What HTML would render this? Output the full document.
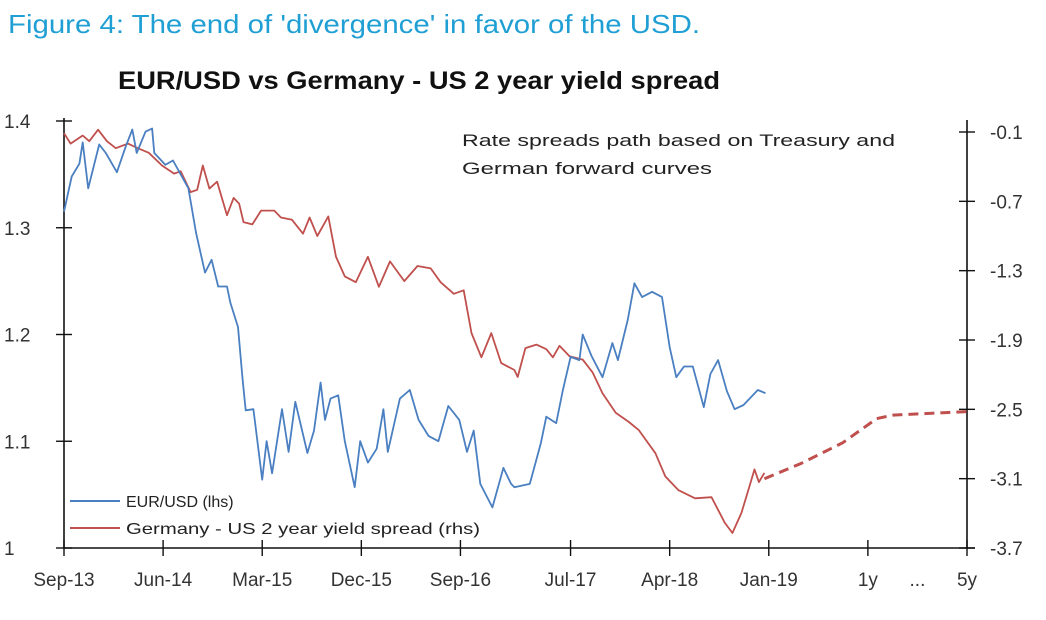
<!DOCTYPE html>
<html><head><meta charset="utf-8"><style>
html,body{margin:0;padding:0;background:#fff}
svg text{font-family:"Liberation Sans",sans-serif}
</style></head><body>
<svg id="chart" width="1046" height="615" xmlns="http://www.w3.org/2000/svg">
<text x="8" y="33" font-size="26" fill="#1f9fd4" textLength="692" lengthAdjust="spacingAndGlyphs">Figure 4: The end of 'divergence' in favor of the USD.</text>
<text x="118" y="89" font-size="25" font-weight="bold" fill="#111" textLength="602" lengthAdjust="spacingAndGlyphs">EUR/USD vs Germany - US 2 year yield spread</text>
<text x="462" y="146" font-size="17" fill="#222" textLength="433" lengthAdjust="spacingAndGlyphs">Rate spreads path based on Treasury and</text>
<text x="462" y="174" font-size="17" fill="#222" textLength="250" lengthAdjust="spacingAndGlyphs">German forward curves</text>
<g id="axes"></g>
<g id="series"></g>
<g>
<line x1="70" y1="501" x2="120" y2="501" stroke="#4a7fc1" stroke-width="2"/>
<text x="126" y="507" font-size="16" fill="#222">EUR/USD (lhs)</text>
<line x1="70" y1="528" x2="120" y2="528" stroke="#c0504d" stroke-width="2"/>
<text x="126" y="534" font-size="16" fill="#222" textLength="354" lengthAdjust="spacingAndGlyphs">Germany - US 2 year yield spread (rhs)</text>
</g>
</svg>
<script>
const leftTicks=[1,1.1,1.2,1.3,1.4];
const leftTickLabels=["1","1.1","1.2","1.3","1.4"];
const rightTicks=[-0.1,-0.7,-1.3,-1.9,-2.5,-3.1,-3.7];
const rightTickLabels=["-0.1","-0.7","-1.3","-1.9","-2.5","-3.1","-3.7"];
const xTickMonths=[0,9,18,27,36,46,55,64,73,82];
const xTickLabels=["Sep-13","Jun-14","Mar-15","Dec-15","Sep-16","Jul-17","Apr-18","Jan-19","1y","5y"];
const eurMonths=[0,0.7,1.4,1.7,2.2,3.2,3.8,4.8,5.6,6.2,6.6,7.4,8,8.2,9.2,9.9,10.6,11.3,12,12.8,13.4,14,14.8,15.1,15.8,16.2,16.5,17.2,18,18.4,18.9,19.8,20.4,21,22.1,22.7,23.3,23.7,24.2,24.9,25.5,26.4,26.9,27.6,28.4,29,29.4,30.5,31.4,32.2,33.1,34,34.9,35.9,36.6,37.2,37.8,38.9,39.9,40.6,40.9,42.3,43.3,43.8,44.7,45.3,46,46.8,47.1,47.9,48.9,49.8,50.3,51.2,51.8,52.5,53.4,54.3,55,55.6,56.3,57.1,58.1,58.7,59.4,60.2,60.9,61.7,63,63.7];
const eurValues=[1.315,1.348,1.36,1.38,1.337,1.378,1.37,1.352,1.376,1.392,1.37,1.39,1.393,1.37,1.359,1.363,1.35,1.337,1.295,1.258,1.27,1.245,1.245,1.23,1.207,1.16,1.129,1.13,1.064,1.1,1.07,1.13,1.09,1.137,1.089,1.11,1.155,1.12,1.14,1.143,1.1,1.057,1.1,1.08,1.093,1.13,1.09,1.14,1.148,1.12,1.105,1.1,1.133,1.12,1.09,1.11,1.06,1.038,1.075,1.06,1.057,1.06,1.098,1.123,1.117,1.148,1.179,1.176,1.2,1.18,1.16,1.192,1.176,1.214,1.248,1.235,1.24,1.235,1.188,1.16,1.17,1.17,1.132,1.163,1.176,1.147,1.13,1.134,1.148,1.145];
const spreadMonths=[0,0.6,1.7,2.3,3.1,3.9,4.7,5.8,6.7,7.7,8.9,10,10.6,11.5,12.1,12.6,13.2,13.9,14.8,15.4,15.9,16.3,17.1,17.9,19.1,19.7,20.7,21.7,22.3,23,24,24.7,25.5,26.5,27.6,28.6,29.6,30.9,32.1,33.3,34.2,35.4,36.3,37,37.9,38.8,39.7,40.9,41.2,41.9,42.9,43.8,44.4,45,45.9,47.1,48,48.9,50.1,51.3,52.2,53.7,54.6,55.8,57.3,58.8,60,60.7,61.5,62.2,62.7,63.1,63.6];
const spreadValues=[-0.11,-0.2,-0.13,-0.18,-0.08,-0.18,-0.24,-0.2,-0.24,-0.28,-0.39,-0.46,-0.44,-0.62,-0.6,-0.39,-0.59,-0.53,-0.82,-0.67,-0.72,-0.88,-0.9,-0.78,-0.78,-0.84,-0.86,-0.98,-0.84,-1.0,-0.83,-1.18,-1.35,-1.4,-1.18,-1.44,-1.22,-1.39,-1.26,-1.28,-1.4,-1.5,-1.47,-1.84,-2.05,-1.84,-2.1,-2.16,-2.22,-1.97,-1.94,-1.98,-2.05,-1.95,-2.04,-2.07,-2.18,-2.36,-2.53,-2.61,-2.68,-2.88,-3.08,-3.2,-3.27,-3.26,-3.48,-3.57,-3.4,-3.18,-3.02,-3.13,-3.05];
const fcMonths=[63.6,66.9,70.7,73.8,75.3,82];
const fcValues=[-3.1,-2.97,-2.79,-2.58,-2.55,-2.52];

const NS="http://www.w3.org/2000/svg";
const X0=64,X1=967;
function xs(m){return X0+m*(X1-X0)/82;}
function yl(v){return 548-(v-1)*(548-121)/0.4;}
function yr(v){return 132+(-0.1-v)*(548-132)/3.6;}
function mk(tag,attrs,parent){const e=document.createElementNS(NS,tag);for(const k in attrs)e.setAttribute(k,attrs[k]);parent.appendChild(e);return e;}
const axes=document.getElementById('axes');
const series=document.getElementById('series');
let e;
e=mk('line',{x1:X0,y1:118,x2:X0,y2:549,stroke:'#111','stroke-width':1.6},axes);


e=mk('line',{x1:X1,y1:120,x2:X1,y2:549,stroke:'#111','stroke-width':1.6},axes);


e=mk('line',{x1:X0,y1:548,x2:X1+8,y2:548,stroke:'#111','stroke-width':1.6},axes);


leftTicks.forEach((v,i)=>{
  const y=yl(v);
  e=mk('line',{x1:X0-8,y1:y,x2:X0+8,y2:y,stroke:'#111','stroke-width':1.4},axes);
  
  
  e=mk('text',{x:4,y:y+7,'font-size':19,fill:'#333'},axes);e.textContent=leftTickLabels[i];
  
  
});
rightTicks.forEach((v,i)=>{
  const y=yr(v);
  e=mk('line',{x1:X1-8,y1:y,x2:X1+8,y2:y,stroke:'#111','stroke-width':1.4},axes);
  
  
  e=mk('text',{x:990,y:y+7,'font-size':19,fill:'#333'},axes);e.textContent=rightTickLabels[i];
  
  
});
xTickMonths.forEach((m,i)=>{
  const x=xs(m);
  e=mk('line',{x1:x,y1:540,x2:x,y2:556,stroke:'#111','stroke-width':1.4},axes);
  
  
  e=mk('text',{x:x,y:586,'font-size':19,fill:'#333','text-anchor':'middle'},axes);e.textContent=xTickLabels[i];
  
  
});
e=mk('text',{x:xs(77.5),y:586,'font-size':19,fill:'#333','text-anchor':'middle'},axes);e.textContent='...';


function pts(ms,vs,f){return ms.map((m,i)=>xs(m).toFixed(1)+','+f(vs[i]).toFixed(1)).join(' ');}
e=mk('polyline',{points:pts(spreadMonths,spreadValues,yr),fill:'none',stroke:'#c0504d','stroke-width':1.8,'stroke-linejoin':'round'},series);


e=mk('polyline',{points:pts(fcMonths,fcValues,yr),fill:'none',stroke:'#c0504d','stroke-width':3,'stroke-dasharray':'10,6'},series);


e=mk('polyline',{points:pts(eurMonths,eurValues,yl),fill:'none',stroke:'#4a7fc1','stroke-width':1.8,'stroke-linejoin':'round'},series);


</script>
</body></html>
